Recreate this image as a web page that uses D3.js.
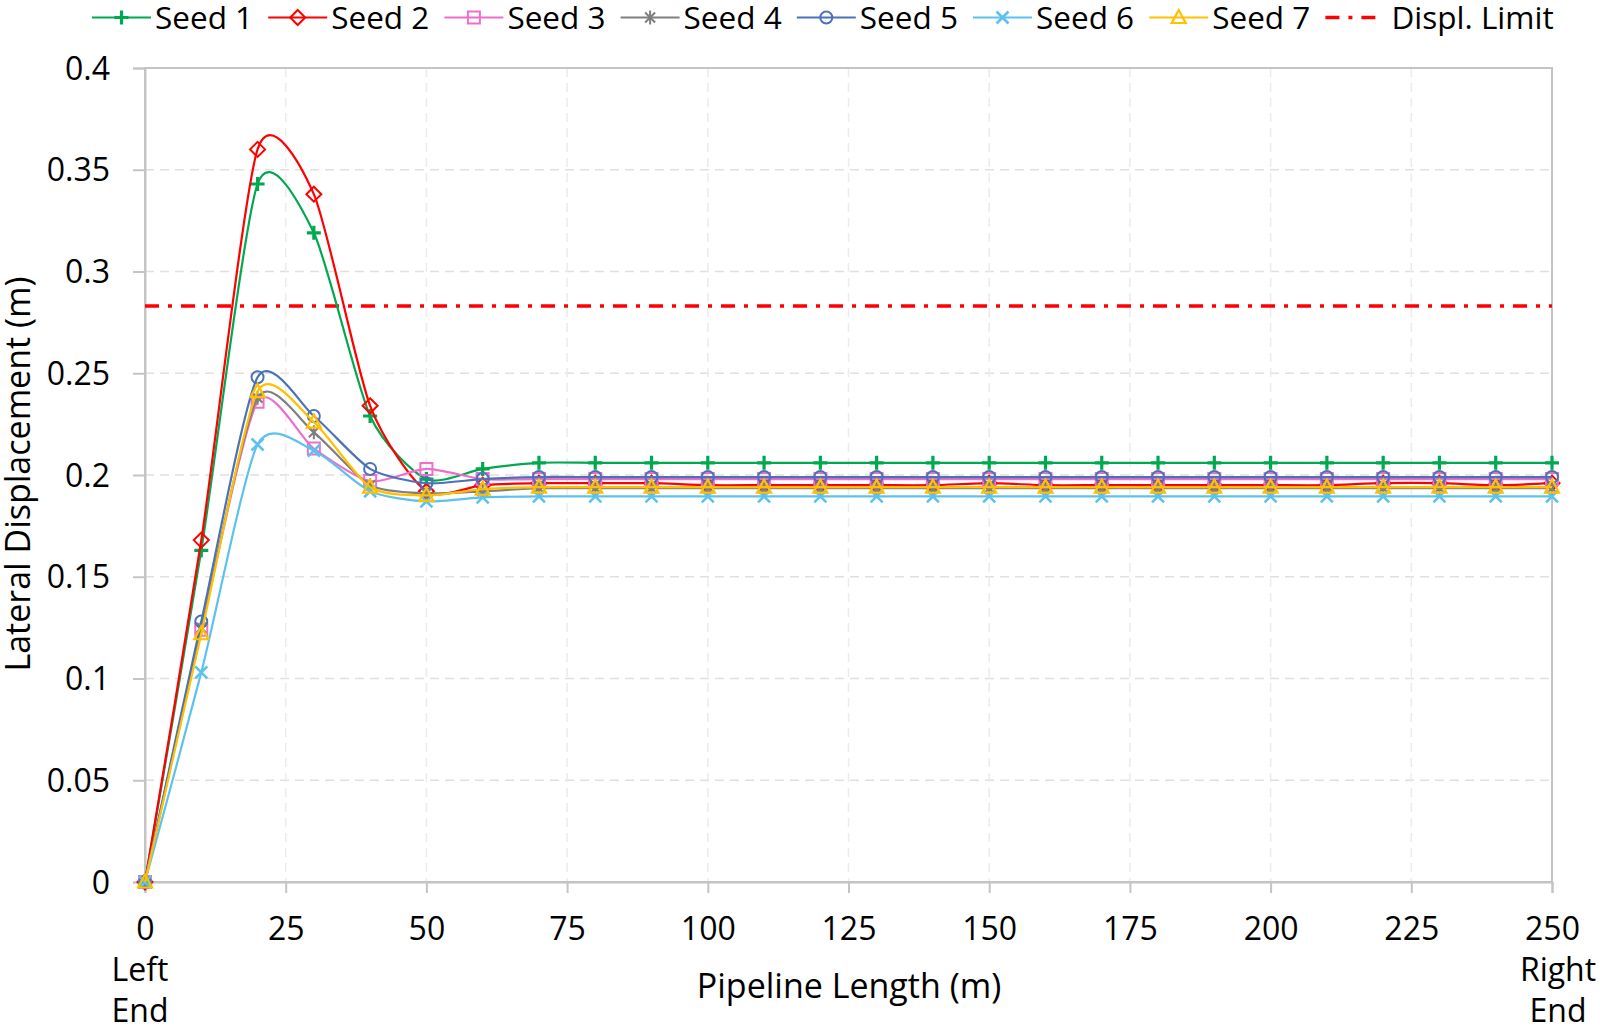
<!DOCTYPE html>
<html>
<head>
<meta charset="utf-8">
<script src="https://cdn.jsdelivr.net/npm/d3@7"></script>
<style>
  html, body { margin: 0; padding: 0; background: #ffffff; }
  svg { display: block; }
  text { font-family: "Open Sans", "Noto Sans", sans-serif; fill: #000; }
</style>
</head>
<body>
<svg id="chart" width="1600" height="1028"></svg>
<script>
// ---------------- DATA ----------------
const xPositions = [0,10,20,30,40,50,60,70,80,90,100,110,120,130,140,150,160,170,180,190,200,210,220,230,240,250];

const seed1 = [0,0.163,0.343,0.319,0.229,0.198,0.203,0.206,0.206,0.206,0.206,0.206,0.206,0.206,0.206,0.206,0.206,0.206,0.206,0.206,0.206,0.206,0.206,0.206,0.206,0.206];
const seed2 = [0,0.168,0.360,0.338,0.234,0.192,0.195,0.196,0.196,0.196,0.195,0.195,0.195,0.195,0.195,0.196,0.195,0.195,0.195,0.195,0.195,0.195,0.196,0.196,0.195,0.196];
const seed3 = [0,0.124,0.236,0.213,0.197,0.203,0.198,0.198,0.198,0.198,0.198,0.198,0.198,0.198,0.198,0.198,0.198,0.198,0.198,0.198,0.198,0.198,0.198,0.198,0.198,0.198];
const seed4 = [0,0.125,0.238,0.221,0.195,0.191,0.192,0.1935,0.1935,0.1935,0.1935,0.1935,0.1935,0.1935,0.1935,0.1935,0.1935,0.1935,0.1935,0.1935,0.1935,0.1935,0.1935,0.1935,0.1935,0.1935];
const seed5 = [0,0.128,0.248,0.229,0.203,0.196,0.198,0.199,0.199,0.199,0.199,0.199,0.199,0.199,0.199,0.199,0.199,0.199,0.199,0.199,0.199,0.199,0.199,0.199,0.199,0.199];
const seed6 = [0,0.103,0.215,0.212,0.192,0.187,0.189,0.1895,0.1895,0.1895,0.1895,0.1895,0.1895,0.1895,0.1895,0.1895,0.1895,0.1895,0.1895,0.1895,0.1895,0.1895,0.1895,0.1895,0.1895,0.1895];
const seed7 = [0,0.122,0.241,0.226,0.194,0.190,0.193,0.194,0.194,0.194,0.194,0.194,0.194,0.194,0.194,0.194,0.194,0.194,0.194,0.194,0.194,0.194,0.194,0.194,0.194,0.194];

const limitX = [0, 250];
const limitValue = [0.283, 0.283];

const seriesNames = ["Seed 1","Seed 2","Seed 3","Seed 4","Seed 5","Seed 6","Seed 7"];
const limitName = "Displ. Limit";

const xTickValues = [0,25,50,75,100,125,150,175,200,225,250];
const yTickValues = [0,0.05,0.1,0.15,0.2,0.25,0.3,0.35,0.4];
const yTickLabels = ["0","0.05","0.1","0.15","0.2","0.25","0.3","0.35","0.4"];
const xTitle = "Pipeline Length (m)";
const yTitle = "Lateral Displacement (m)";
const leftEndLabel = ["Left","End"];
const rightEndLabel = ["Right","End"];

// ---------------- STYLE ----------------
const seriesValues = [seed1, seed2, seed3, seed4, seed5, seed6, seed7];
const colors = ["#00A850","#FF0000","#F06ECB","#7F7F7F","#4A72B8","#5BC2F0","#FFC000"];
const markers = ["plus","diamond","square","star","circle","cross","triangle"];

const plotL = 145, plotR = 1552, plotT = 68, plotB = 882;
const tickFont = 32, titleFont = 34, legendFont = 31.5;

const svg = d3.select("#chart");
const x = d3.scaleLinear().domain([0, 250]).range([plotL, plotR]);
const y = d3.scaleLinear().domain([0, 0.4]).range([plotB, plotT]);

const gridColor = "#e3e0d8";
const axisColor = "#c4c4c4";

// grid
const grid = svg.append("g");
grid.selectAll("line.h").data(yTickValues.filter(v => v > 0 && v < 0.4)).join("line")
  .attr("x1", plotL).attr("x2", plotR)
  .attr("y1", d => y(d)).attr("y2", d => y(d))
  .attr("stroke", gridColor).attr("stroke-width", 1.5).attr("stroke-dasharray", "9,6");
grid.selectAll("line.v").data(xTickValues.filter(v => v > 0 && v < 250)).join("line")
  .attr("y1", plotT).attr("y2", plotB)
  .attr("x1", d => x(d)).attr("x2", d => x(d))
  .attr("stroke", "#ececec").attr("stroke-width", 1.5).attr("stroke-dasharray", "9,6");

// frame
svg.append("rect").attr("x", plotL).attr("y", plotT).attr("width", plotR-plotL).attr("height", plotB-plotT)
  .attr("fill", "none").attr("stroke", axisColor).attr("stroke-width", 2);

// axes
const yAxis = d3.axisLeft(y).tickValues(yTickValues).tickFormat((d,i) => yTickLabels[i]).tickSize(12).tickPadding(22);
const gy = svg.append("g").attr("transform", `translate(${plotL},0)`).call(yAxis);
gy.select(".domain").attr("stroke", axisColor).attr("stroke-width", 2);
gy.selectAll(".tick line").attr("stroke", axisColor).attr("stroke-width", 2);
gy.selectAll(".tick text").attr("font-size", tickFont).attr("font-family", "Open Sans").attr("fill", "#000")
  .attr("x", -35).attr("dy", "0.35em");

const xAxis = d3.axisBottom(x).tickValues(xTickValues).tickFormat(d3.format("d")).tickSize(11).tickPadding(0);
const gx = svg.append("g").attr("transform", `translate(0,${plotB})`).call(xAxis);
gx.select(".domain").attr("stroke", axisColor).attr("stroke-width", 2);
gx.selectAll(".tick line").attr("stroke", axisColor).attr("stroke-width", 2);
gx.selectAll(".tick text").attr("font-size", tickFont).attr("font-family", "Open Sans").attr("fill", "#000")
  .attr("y", 58).attr("dy", null);

// end labels
[[leftEndLabel, x(0) - 5], [rightEndLabel, x(250) + 6]].forEach(([lines, cx]) => {
  lines.forEach((t, i) => {
    svg.append("text").attr("x", cx).attr("y", 981 + i * 41)
      .attr("text-anchor", "middle").attr("font-size", tickFont).text(t);
  });
});

// titles
svg.append("text").attr("x", 849).attr("y", 998).attr("text-anchor", "middle")
  .attr("font-size", titleFont).text(xTitle);
svg.append("text").attr("transform", `translate(30,${474}) rotate(-90)`).attr("text-anchor", "middle")
  .attr("font-size", titleFont).text(yTitle);

// limit line
const limitLine = d3.line().x((d,i) => x(limitX[i])).y(d => y(d));
svg.append("path").attr("d", limitLine(limitValue))
  .attr("fill", "none").attr("stroke", "#FF0000").attr("stroke-width", 3.5)
  .attr("stroke-dasharray", "14,9,4,9");

// marker paths
function markerPath(type, s) {
  s = s || 1;
  switch (type) {
    case "plus": return `M${-7*s},0H${7*s}M0,${-7*s}V${7*s}`;
    case "diamond": return `M0,${-7.5*s}L${7.5*s},0L0,${7.5*s}L${-7.5*s},0Z`;
    case "square": return `M${-6*s},${-6*s}H${6*s}V${6*s}H${-6*s}Z`;
    case "star": return `M${-5*s},${-5*s}L${5*s},${5*s}M${-5*s},${5*s}L${5*s},${-5*s}M0,${-7*s}V${7*s}`;
    case "circle": return `M${6*s},0A${6*s},${6*s},0,1,1,${-6*s},0A${6*s},${6*s},0,1,1,${6*s},0Z`;
    case "cross": return `M${-6*s},${-6*s}L${6*s},${6*s}M${-6*s},${6*s}L${6*s},${-6*s}`;
    case "triangle": return `M0,${-7.5*s}L${7*s},${5.5*s}L${-7*s},${5.5*s}Z`;
  }
}
const markerWidth = {plus: 3.2, diamond: 2, square: 2, star: 2, circle: 2, cross: 2.6, triangle: 2.2};

// series
const line = d3.line().x((d,i) => x(xPositions[i])).y(d => y(d)).curve(d3.curveCardinal.tension(0.3));
seriesValues.forEach((vals, si) => {
  const g = svg.append("g");
  g.append("path").attr("d", line(vals)).attr("fill", "none")
    .attr("stroke", colors[si]).attr("stroke-width", 2.2);
  g.selectAll("path.m").data(vals).join("path").attr("class", "m")
    .attr("transform", (d,i) => `translate(${x(xPositions[i])},${y(d)})`)
    .attr("d", markerPath(markers[si]))
    .attr("fill", "none").attr("stroke", colors[si]).attr("stroke-width", markerWidth[markers[si]]);
});

// legend
const legStart = 92, legPitch = 176.2, legLen = 59, legY = 17.5;
seriesNames.forEach((name, i) => {
  const x0 = legStart + i * legPitch;
  svg.append("line").attr("x1", x0).attr("x2", x0 + legLen).attr("y1", legY).attr("y2", legY)
    .attr("stroke", colors[i]).attr("stroke-width", 2.2);
  svg.append("path").attr("transform", `translate(${x0 + legLen/2},${legY})`)
    .attr("d", markerPath(markers[i])).attr("fill", "none")
    .attr("stroke", colors[i]).attr("stroke-width", markerWidth[markers[i]]);
  svg.append("text").attr("x", x0 + legLen + 4).attr("y", legY + 11.5).attr("font-size", legendFont).text(name);
});
{
  const x0 = legStart + 7 * legPitch;
  svg.append("line").attr("x1", x0).attr("x2", x0 + legLen).attr("y1", legY).attr("y2", legY)
    .attr("stroke", "#FF0000").attr("stroke-width", 3.5).attr("stroke-dasharray", "14,9,4,9");
  svg.append("text").attr("x", x0 + legLen + 7).attr("y", legY + 11.5).attr("font-size", legendFont).text(limitName);
}
</script>
</body>
</html>
